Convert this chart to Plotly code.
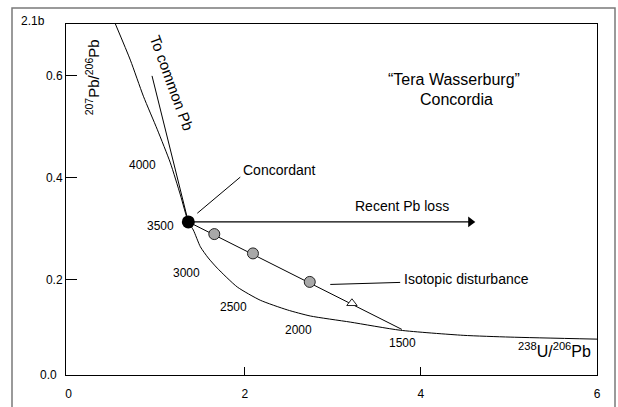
import plotly.graph_objects as go

# Concordia curve (238U/206Pb vs 207Pb/206Pb)
concordia_x = [0.531, 0.701, 0.849, 1.008, 1.155, 1.269, 1.359, 1.416, 1.496, 1.586,
               1.688, 1.915, 2.176, 2.483, 2.744, 3.198, 3.765, 4.480, 5.013, 6.0]
concordia_y = [0.702, 0.631, 0.560, 0.494, 0.429, 0.366, 0.313, 0.297, 0.264, 0.242,
               0.222, 0.185, 0.159, 0.140, 0.128, 0.116, 0.100, 0.090, 0.0865, 0.0825]

# Concordant point
conc_x = [1.359]
conc_y = [0.313]

# Line to common Pb
common_x = [0.947, 1.359]
common_y = [0.600, 0.313]

# Discordia line (isotopic disturbance)
disc_x = [1.359, 3.784]
disc_y = [0.313, 0.1016]

# Discordant samples
sample_x = [1.654, 2.093, 2.738]
sample_y = [0.289, 0.251, 0.195]
tri_x = [3.217]
tri_y = [0.153]

# Recent Pb loss arrow
loss_x = [1.359, 4.564]
loss_y = [0.313, 0.313]

# Age labels on concordia (Ma)
age_text = ["4000", "3500", "3000", "2500", "2000", "1500"]
age_x = [0.837, 1.042, 1.337, 1.870, 2.607, 3.788]
age_y = [0.425, 0.305, 0.212, 0.1455, 0.100, 0.0747]

# Leader lines
conc_lead_x = [1.461, 1.949]
conc_lead_y = [0.330, 0.401]
iso_lead_x = [2.971, 3.765]
iso_lead_y = [0.190, 0.194]

x_ticks = [0, 2, 4, 6]
y_ticks = [0.2, 0.4, 0.6]

FONT = "Arial, Liberation Sans, sans-serif"

fig = go.Figure()
ln = dict(color="black", width=1)
fig.add_trace(go.Scatter(x=concordia_x, y=concordia_y, mode="lines",
                         line=dict(color="black", width=1, shape="spline", smoothing=0.6)))
fig.add_trace(go.Scatter(x=common_x, y=common_y, mode="lines", line=ln))
fig.add_trace(go.Scatter(x=disc_x, y=disc_y, mode="lines", line=ln))
fig.add_trace(go.Scatter(x=conc_lead_x, y=conc_lead_y, mode="lines", line=ln))
fig.add_trace(go.Scatter(x=iso_lead_x, y=iso_lead_y, mode="lines", line=ln))
fig.add_trace(go.Scatter(x=loss_x, y=loss_y, mode="lines", line=dict(color="black", width=1.3)))
fig.add_trace(go.Scatter(x=loss_x[1:], y=loss_y[1:], mode="markers",
                         marker=dict(symbol="triangle-right", size=9.5, color="black",
                                     line=dict(width=0))))
fig.add_trace(go.Scatter(x=sample_x, y=sample_y, mode="markers",
                         marker=dict(symbol="circle", size=11, color="#a8a8a8",
                                     line=dict(color="#222", width=1))))
fig.add_trace(go.Scatter(x=tri_x, y=tri_y, mode="markers",
                         marker=dict(symbol="triangle-up", size=9, color="white",
                                     line=dict(color="#222", width=1))))
fig.add_trace(go.Scatter(x=conc_x, y=conc_y, mode="markers",
                         marker=dict(symbol="circle", size=13, color="black",
                                     line=dict(width=0))))

ann = []
for t, x, y in zip(age_text, age_x, age_y):
    ann.append(dict(x=x, y=y, text=t, showarrow=False, font=dict(size=12)))
ann += [
    dict(x=1.961, y=0.415, text="Concordant", xanchor="left", showarrow=False, font=dict(size=14)),
    dict(x=3.788, y=0.344, text="Recent Pb loss", showarrow=False, font=dict(size=14)),
    dict(x=3.788, y=0.2005, text="Isotopic disturbance", xanchor="left", showarrow=False,
         font=dict(size=14)),
    dict(x=4.378, y=0.592, text="\u201cTera Wasserburg\u201d", showarrow=False, font=dict(size=16)),
    dict(x=4.40, y=0.5545, text="Concordia", showarrow=False, font=dict(size=16)),
    dict(x=1.178, y=0.586, text="To common Pb", textangle=70, showarrow=False, font=dict(size=15)),
    dict(x=0.27, y=0.598, text="<sup>207</sup>Pb/<sup>206</sup>Pb", textangle=-90,
         showarrow=False, font=dict(size=15)),
    dict(x=(593 - 66) / 531, y=(375 - 350) / 351, xref="paper", yref="paper",
         text="<sup>238</sup>U/<sup>206</sup>Pb", xanchor="right", yanchor="middle",
         showarrow=False, font=dict(size=16)),
    dict(x=(59 - 66) / 531, y=0, xref="paper", yref="paper", text="0.0", xanchor="right",
         yanchor="middle", showarrow=False, font=dict(size=12)),
    dict(x=(19 - 66) / 531, y=(375 - 21) / 351, xref="paper", yref="paper", text="2.1b",
         xanchor="left", yanchor="middle", showarrow=False, font=dict(size=12)),
]

fig.update_layout(
    width=618, height=407,
    margin=dict(l=66, r=21, t=24, b=32),
    paper_bgcolor="white", plot_bgcolor="white",
    showlegend=False,
    font=dict(family=FONT, color="black", size=12),
    annotations=ann,
    shapes=[dict(type="rect", xref="paper", yref="paper",
                 x0=(12 - 66) / 531, x1=(615 - 66) / 531,
                 y0=-0.2, y1=(375 - 8) / 351,
                 line=dict(color="#7a7a7a", width=1.5), layer="below")],
)
fig.update_xaxes(range=[-0.03, 6.0], tickvals=x_ticks, ticks="", ticklen=0,
                 ticklabelstandoff=8, automargin=False,
                 minor=dict(tickvals=[2, 4], ticks="inside", ticklen=8, tickcolor="black"),
                 showline=True, mirror=True, linecolor="black", linewidth=1,
                 showgrid=False, zeroline=False, tickfont=dict(size=12))
fig.update_yaxes(range=[0.012, 0.702], tickvals=y_ticks, tickformat=".1f",
                 ticks="inside", ticklen=11, tickcolor="black", automargin=False,
                 showline=True, mirror=True, linecolor="black", linewidth=1,
                 showgrid=False, zeroline=False, tickfont=dict(size=12))

fig.write_html("out.html")
